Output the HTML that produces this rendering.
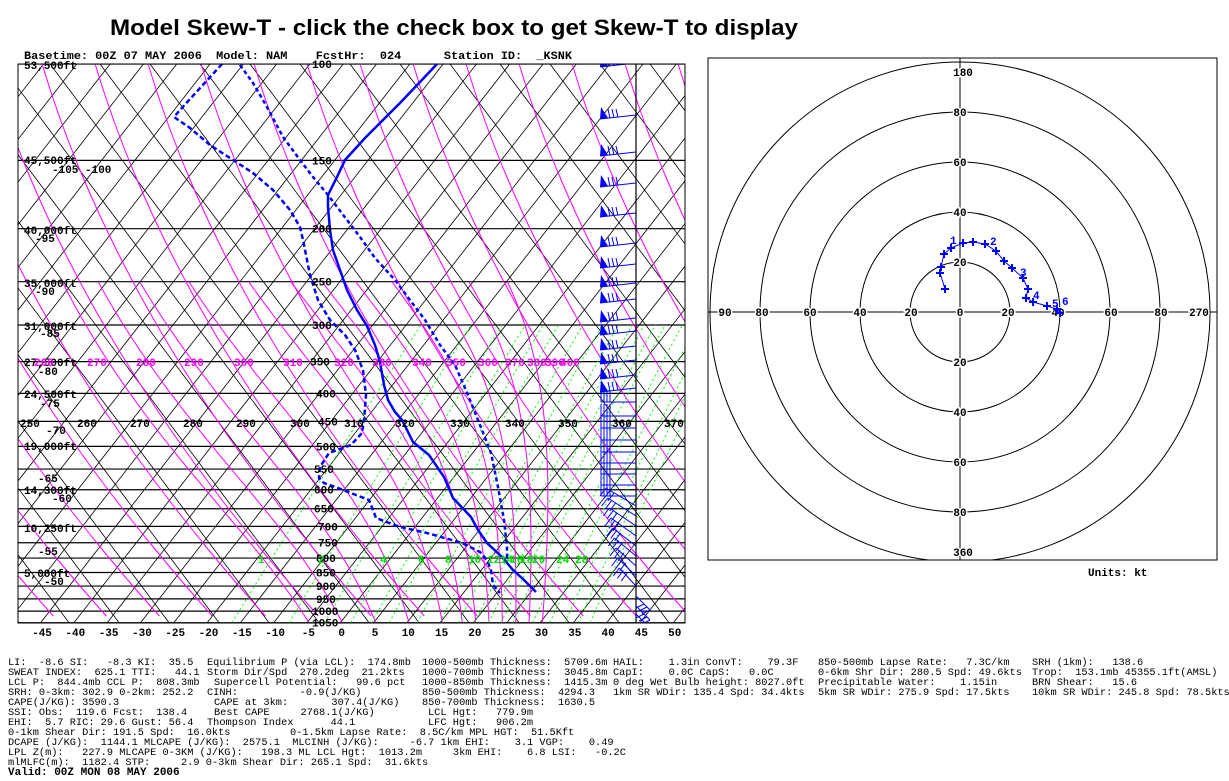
<!DOCTYPE html>
<html><head><meta charset="utf-8"><style>
html,body{margin:0;padding:0;background:#fff;}
svg{display:block;}
.m{font-family:"Liberation Mono",monospace;font-size:10.3px;fill:#000;white-space:pre;}
.b{font-family:"Liberation Mono",monospace;font-size:11px;font-weight:bold;}
</style></head><body>
<svg id="s" xmlns="http://www.w3.org/2000/svg" width="1229" height="781" viewBox="0 0 1229 781">
<defs><clipPath id="c1"><rect x="18" y="64" width="667" height="559"/></clipPath>
<clipPath id="c2"><rect x="708" y="58" width="509" height="502"/></clipPath></defs>
<rect width="1229" height="781" fill="#fff"/>
<text x="110" y="35" font-family="Liberation Sans,sans-serif" font-weight="bold" font-size="22" textLength="688" lengthAdjust="spacingAndGlyphs">Model Skew-T - click the check box to get Skew-T to display</text>
<text x="24" y="59" class="b" xml:space="preserve" textLength="548" lengthAdjust="spacingAndGlyphs">Basetime: 00Z 07 MAY 2006  Model: NAM    FcstHr:  024      Station ID:  _KSNK</text>
<g id="skew" clip-path="url(#c1)"></g>
<g id="skl"></g>
<rect x="18" y="64" width="667" height="559" fill="none" stroke="#000"/>
<g id="hodo" clip-path="url(#c2)"></g>
<rect x="708" y="58" width="509" height="502" fill="none" stroke="#000"/>
<g id="hl"></g>
<g id="htr"></g>
<text x="1088" y="576" class="b">Units: kt</text>
<g id="txt"></g>
</svg>
<script>
(function(){
function yOf(p){return 64+237.6*Math.log(p/100);}
function xOf(T,p){return 342+6.67*T+(623-yOf(p))*0.95;}
function pl(pts,st){return '<polyline fill="none" points="'+pts.map(function(a){return a[0].toFixed(1)+","+a[1].toFixed(1)}).join(" ")+'" '+st+'/>';}
var sk="";
var P=[100,150,200,250,300,350,400,450,500,550,600,650,700,750,800,850,900,950,1000,1050];
P.forEach(function(p){var y=yOf(p);sk+='<line x1="18" x2="685" y1="'+y+'" y2="'+y+'" stroke="#000" stroke-width="1.2"/>';});
for(var a=-600;a<=700;a+=33.3){sk+='<line x1="'+(41+a)+'" y1="623" x2="'+(41+a+559*0.78)+'" y2="64" stroke="#000" stroke-width="0.8"/>';}
for(var b=-700;b<=1300;b+=50){sk+='<line x1="'+b+'" y1="64" x2="'+(b+559*0.75)+'" y2="623" stroke="#000" stroke-width="0.8"/>';}
for(var xa=-500;xa<=1000;xa+=53){var pts=[];for(var y=64;y<=623;y+=8){var dx=0.3*(y-423)+0.3/559*((y-64)*(y-64)-359*359);pts.push([xa+30+dx,y]);}sk+=pl(pts,'stroke="#ff00ff" stroke-width="1"');}
function es(tc){return 6.112*Math.exp(17.67*tc/(tc+243.5));}
[-5,0,5,10,15,18,20,22,24,26,28,30].forEach(function(t0){var tk=t0+273.15,pts=[];for(var p=1050;p>=250;p-=5){var tc=tk-273.15;var rs=0.622*es(tc)/(p-es(tc));pts.push([xOf(tc,p),yOf(p)]);var d=(287*tk+2.5e6*rs)/(1004+2.5e6*2.5e6*rs*0.622/(287*tk*tk))/p;tk-=d*5;}sk+=pl(pts,'stroke="#ff00ff" stroke-width="1"');});
[1,2,3,4,5,6,8,10,12,14,16,18,20,24,28,32,36,40].forEach(function(w){var pts=[];for(var p=1050;p>=300;p-=25){var e=w*p/(622+w);var l=Math.log(e/6.112);var td=243.5*l/(17.67-l);pts.push([xOf(td,p),yOf(p)]);}sk+=pl(pts,'stroke="#00ff00" stroke-width="1" stroke-dasharray="2,3"');});
sk+='<line x1="636" y1="64" x2="636" y2="623" stroke="#000" stroke-width="1.2"/>';
var Tp=[[437,64],[420,82],[400,103],[383,120],[365,138],[345,160],[337,177],[328,195],[328,207],[330,230],[333,250],[340,270],[347,290],[357,310],[367,326],[375,345],[380,362],[384,385],[388,400],[395,412],[402,420],[413,442],[429,455],[444,477],[453,498],[471,517],[478,530],[487,543],[502,557],[513,570],[524,580],[536,592]];
var Dp=[[222,64],[180,110],[174,117],[190,128],[210,145],[230,158],[253,173],[273,190],[290,210],[300,227],[303,240],[305,250],[310,275],[318,300],[330,320],[345,335],[355,350],[363,370],[366,395],[364,420],[362,433],[351,445],[329,453],[320,467],[319,478],[324,483],[338,488],[356,495],[369,500],[373,510],[376,518],[400,527],[427,533],[462,543],[480,552],[487,560],[491,570],[493,585],[500,593]];
var Vp=[[240,65],[253,83],[267,107],[283,137],[300,160],[313,177],[328,195],[347,220],[360,237],[375,258],[395,280],[410,300],[425,320],[440,345],[455,365],[468,395],[478,420],[491,453],[498,487],[504,520],[507,547],[507,560]];
sk+=pl(Tp,'stroke="#0000ff" stroke-width="2.5"');
sk+=pl(Dp,'stroke="#0000ff" stroke-width="2.5" stroke-dasharray="5,3"');
sk+=pl(Vp,'stroke="#0000ff" stroke-width="2.5" stroke-dasharray="4,3"');
var by=[63,115,152,183,213,243,264,283,299,318,331,346,360,375,388,402,416,428,440,452,463,474,485,496,506,516,526,536,546,556,566,576,586,596,606,614];
by.forEach(function(y){
 var ex,ey,j,bx,bb;
 if(y<=400){ex=600;ey=y+4;sk+='<line x1="636" y1="'+y+'" x2="'+ex+'" y2="'+ey+'" stroke="#0000ff"/>';
  sk+='<polygon points="'+ex+','+ey+' '+(ex+8)+','+(ey-1)+' '+(ex+1)+','+(ey-12)+'" fill="#0000ff"/>';
  for(j=1;j<=3;j++){bx=ex+6+j*4;sk+='<line x1="'+bx+'" y1="'+(ey-0.5*j)+'" x2="'+(bx-2)+'" y2="'+(ey-10)+'" stroke="#0000ff"/>';}}
 else if(y<=500){sk+='<line x1="636" y1="'+y+'" x2="601" y2="'+y+'" stroke="#0000ff"/>';for(j=0;j<4;j++){bx=601+j*3;sk+='<line x1="'+bx+'" y1="'+y+'" x2="'+bx+'" y2="'+(y-12)+'" stroke="#0000ff"/>';}}
 else if(y<=590){ex=605+(y-500)/6;ey=y-18;sk+='<line x1="636" y1="'+y+'" x2="'+ex+'" y2="'+ey+'" stroke="#0000ff"/>';for(j=0;j<3;j++){bx=ex+j*4;bb=ey+j*2.4;sk+='<line x1="'+bx+'" y1="'+bb+'" x2="'+(bx-6)+'" y2="'+(bb+8)+'" stroke="#0000ff"/>';}}
 else {ex=650;ey=y+14;sk+='<line x1="636" y1="'+y+'" x2="'+ex+'" y2="'+ey+'" stroke="#0000ff"/>';for(j=0;j<3;j++){sk+='<line x1="'+(ex-j*3)+'" y1="'+(ey-j*3)+'" x2="'+(ex-j*3-8)+'" y2="'+(ey-j*3+4)+'" stroke="#0000ff"/>';}}
});
document.getElementById("skew").innerHTML=sk;
var lb="";
function lab(x,y,s,c){lb+='<text x="'+x+'" y="'+y+'" class="b" fill="'+(c||"#000")+'" xml:space="preserve">'+s+'</text>';}
[["53,500ft",69],["45,500ft",164],["40,000ft",234],["35,000ft",287],["31,000ft",330],["27,500ft",366],["24,500ft",398],["19,000ft",450],["14,300ft",494],["10,250ft",532],["5,000ft",577]].forEach(function(q){lab(24,q[1],q[0]);});
[["-105 -100",52,173],["-95",35,242],["-90",35,295],["-85",40,337],["-80",38,375],["-75",40,407],["-70",46,434],["-65",38,482],["-60",52,502],["-55",38,555],["-50",44,585]].forEach(function(q){lab(q[1],q[2],q[0]);});
var PL=[[100,312],[150,312],[200,312],[250,312],[300,312],[350,310],[400,316],[450,318],[500,316],[550,314],[600,314],[650,314],[700,318],[750,318],[800,316],[850,316],[900,316],[950,316],[1000,312],[1050,312]];
PL.forEach(function(q){lab(q[1],yOf(q[0])+4,String(q[0]));});
[[250,20],[260,77],[270,130],[280,183],[290,236],[300,290],[310,344],[320,395],[330,450],[340,505],[350,558],[360,612],[370,664]].forEach(function(q){lab(q[1],427,String(q[0]));});
[[260,34],[270,87],[280,136],[290,184],[300,234],[310,283],[320,334],[330,372],[340,412],[350,446],[360,478],[370,505],[380,527],[390,545],[400,560]].forEach(function(q){lab(q[1],366,String(q[0]),"#ff00ff");});
[[1,258],[2,318],[4,380],[6,418],[8,445],[10,468],[12,487],[14,500],[16,510],[18,520],[20,532],[24,556],[28,575]].forEach(function(q){lab(q[1],563,String(q[0]),"#00e000");});
for(var i=0;i<20;i++){var xx=42+i*33.3;var s=String(-45+i*5);lab(xx-s.length*3.3,636,s);}
document.getElementById("skl").innerHTML=lb;
var h="",cx=960,cy=312;
[50,100,150,200,250].forEach(function(r){h+='<circle cx="'+cx+'" cy="'+cy+'" r="'+r+'" fill="none" stroke="#000"/>';});
h+='<line x1="708" x2="1217" y1="'+cy+'" y2="'+cy+'" stroke="#000"/><line x1="'+cx+'" x2="'+cx+'" y1="58" y2="560" stroke="#000"/>';
document.getElementById("hodo").innerHTML=h;
var H=[[945,289],[940,273],[941,267],[944,254],[951,248],[963,243],[973,242],[985,244],[996,251],[1004,261],[1012,268],[1023,278],[1028,289],[1026,298],[1033,302],[1047,306],[1057,309],[1060,313]];
var ht=pl(H,'stroke="#0000ff" stroke-width="1"');
H.forEach(function(q){ht+='<path d="M'+(q[0]-4)+' '+q[1]+'h8M'+q[0]+' '+(q[1]-4)+'v8" stroke="#0000ff" stroke-width="2"/>';});
[["1",950,244],["2",990,245],["3",1020,276],["4",1033,299],["5",1052,307],["6",1062,305]].forEach(function(q){ht+='<text x="'+q[1]+'" y="'+q[2]+'" class="b" fill="#0000ff">'+q[0]+'</text>';});
lb="";
function tw(x,y,s){lb+='<text x="'+x+'" y="'+y+'" class="b" text-anchor="middle" fill="#000" stroke="#fff" stroke-width="3" paint-order="stroke">'+s+'</text>';}
tw(963,76,"180");tw(963,556,"360");tw(725,316,"90");tw(1199,316,"270");
[["80",112],["60",162],["40",212],["20",262],["20",362],["40",412],["60",462],["80",512]].forEach(function(q){tw(960,q[1]+4,q[0]);});
[["80",762],["60",810],["40",860],["20",911],["0",960],["20",1008],["40",1058],["60",1111],["80",1161]].forEach(function(q){tw(q[1],316,q[0]);});
document.getElementById("hl").innerHTML=lb;
document.getElementById("htr").innerHTML=ht;
var R=[
[[8,"LI:  -8.6 SI:   -8.3 KI:  35.5"],[207,"Equilibrium P (via LCL):  174.8mb"],[422,"1000-500mb Thickness:  5709.6m"],[613,"HAIL:    1.3in ConvT:    79.3F"],[818,"850-500mb Lapse Rate:   7.3C/km"],[1032,"SRH (1km):   138.6"]],
[[8,"SWEAT INDEX:  625.1 TTI:   44.1"],[207,"Storm Dir/Spd  270.2deg  21.2kts"],[422,"1000-700mb Thickness:  3045.8m"],[613,"CapI:    0.0C CapS:   0.0C"],[818,"0-6km Shr Dir: 280.5 Spd: 49.6kts"],[1032,"Trop:  153.1mb 45355.1ft(AMSL)"]],
[[8,"LCL P:  844.4mb CCL P:  808.3mb"],[214,"Supercell Potential:   99.6 pct"],[422,"1000-850mb Thickness:  1415.3m"],[613,"0 deg Wet Bulb height: 8027.0ft"],[818,"Precipitable Water:    1.15in"],[1032,"BRN Shear:   15.6"]],
[[8,"SRH: 0-3km: 302.9 0-2km: 252.2"],[207,"CINH:          -0.9(J/KG)"],[422,"850-500mb Thickness:  4294.3"],[613,"1km SR WDir: 135.4 Spd: 34.4kts"],[818,"5km SR WDir: 275.9 Spd: 17.5kts"],[1032,"10km SR WDir: 245.8 Spd: 78.5kts"]],
[[8,"CAPE(J/KG): 3590.3"],[214,"CAPE at 3km:       307.4(J/KG)"],[422,"850-700mb Thickness:  1630.5"]],
[[8,"SSI: Obs:  119.6 Fcst:  138.4"],[214,"Best CAPE     2768.1(J/KG)"],[428,"LCL Hgt:   779.9m"]],
[[8,"EHI:  5.7 RIC: 29.6 Gust: 56.4"],[207,"Thompson Index      44.1"],[428,"LFC Hgt:   906.2m"]],
[[8,"0-1km Shear Dir: 191.5 Spd:  16.0kts"],[290,"0-1.5km Lapse Rate:  8.5C/km MPL HGT:  51.5Kft"]],
[[8,"DCAPE (J/KG):  1144.1 MLCAPE (J/KG):  2575.1  MLCINH (J/KG):     -6.7 1km EHI:    3.1 VGP:    0.49"]],
[[8,"LPL Z(m):   227.9 MLCAPE 0-3KM (J/KG):   198.3 ML LCL Hgt:  1013.2m     3km EHI:    6.8 LSI:   -0.2C"]],
[[8,"mlMLFC(m):  1182.4 STP:     2.9 0-3km Shear Dir: 265.1 Spd:  31.6kts"]]];
var tx="";
R.forEach(function(r,k){r.forEach(function(c){tx+='<text x="'+c[0]+'" y="'+(665+k*10)+'" class="m" xml:space="preserve">'+c[1]+'</text>';});});
tx+='<text x="8" y="775" class="b">Valid: 00Z MON 08 MAY 2006</text>';
document.getElementById("txt").innerHTML=tx;
})();
</script>
</body></html>
